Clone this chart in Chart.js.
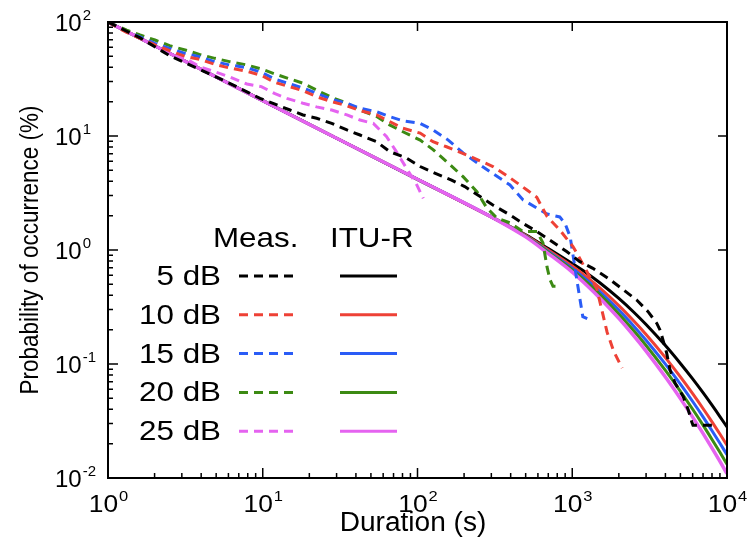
<!DOCTYPE html>
<html>
<head>
<meta charset="utf-8">
<script src="https://cdn.jsdelivr.net/npm/chart.js@4.4.0/dist/chart.umd.min.js"></script>
<style>
  html, body { margin: 0; padding: 0; background: #fff; }
</style>
</head>
<body>
<canvas id="chart" width="748" height="551"></canvas>
<script>
// ---- data ----
const levels = ['5 dB', '10 dB', '15 dB', '20 dB', '25 dB'];
const colors = ['#000000', '#ee4136', '#2a5cf6', '#3c8a13', '#e563f0'];

// ITU-R model curves
const ituDuration = [1, 10, 100, 300, 500, 700, 1000, 1250, 1500, 2000, 2500, 3000, 4000, 5000, 6000, 7000, 8000, 9000, 10000];
const itu5dB  = [100, 20.4, 4.17, 1.95, 1.36, 1.03, 0.76, 0.623, 0.519, 0.376, 0.2845, 0.222, 0.145, 0.101, 0.074, 0.056, 0.0435, 0.0346, 0.028];
const itu10dB = [100, 20.4, 4.17, 1.95, 1.347, 1.002, 0.723, 0.574, 0.467, 0.325, 0.238, 0.1815, 0.1138, 0.077, 0.0549, 0.0407, 0.0311, 0.0243, 0.0194];
const itu15dB = [100, 20.4, 4.17, 1.95, 1.329, 0.972, 0.690, 0.541, 0.4346, 0.2972, 0.2148, 0.1617, 0.0996, 0.0665, 0.0469, 0.0344, 0.026, 0.0202, 0.016];
const itu20dB = [100, 20.4, 4.17, 1.95, 1.319, 0.957, 0.670, 0.517, 0.410, 0.2748, 0.1955, 0.1454, 0.0878, 0.0576, 0.0401, 0.0291, 0.0218, 0.0168, 0.0132];
const itu25dB = [100, 20.4, 4.17, 1.95, 1.304, 0.931, 0.640, 0.4866, 0.3817, 0.2513, 0.1763, 0.1296, 0.0768, 0.0497, 0.0342, 0.0246, 0.0183, 0.014, 0.0109];

// measured curves (duration s, probability %)
const meas5dBDur  = [1, 1.32, 1.6, 2.5, 3.9, 6.1, 9.6, 12, 15, 18.2, 22.3, 27.9, 35, 42.5, 54.5, 66, 85, 104, 126, 166, 202, 254, 307, 396, 481, 592, 718, 920, 1120, 1360, 1750, 2130, 2610, 3090, 3514, 3690, 3857, 4074, 4285, 4617, 5220, 5620, 5915, 6030, 8360];
const meas5dBProb = [100, 83, 73, 50.6, 38.5, 29, 21.4, 19, 16.9, 15.3, 14.3, 12.9, 11.3, 10.2, 8.9, 7.3, 6.4, 5.4, 4.8, 4.1, 3.6, 2.94, 2.48, 2.03, 1.71, 1.45, 1.22, 0.97, 0.79, 0.69, 0.55, 0.45, 0.364, 0.288, 0.228, 0.199, 0.163, 0.125, 0.0885, 0.068, 0.0516, 0.0395, 0.0312, 0.029, 0.029];

const meas10dBDur  = [1, 1.32, 1.61, 2.01, 2.5, 3.15, 3.9, 4.9, 6.1, 7.9, 9.8, 12, 18.2, 22.3, 27.9, 35, 42.5, 54.5, 66, 80.5, 104, 126, 154, 209, 307, 396, 510, 590, 687, 830, 1011, 1070, 1300, 1440, 1590, 1680, 1850, 2100];
const meas10dBProb = [100, 81, 72, 63, 56, 50, 47, 42.5, 39.5, 37, 34, 29.5, 25, 22.1, 20, 18.4, 16.7, 15.3, 13.4, 11.7, 10.6, 8.9, 8.05, 6.8, 5.4, 4.3, 3.36, 2.9, 1.97, 1.5, 1.07, 0.94, 0.58, 0.46, 0.26, 0.19, 0.13, 0.092];

const meas15dBDur  = [1, 1.32, 1.61, 2.01, 2.5, 3.15, 3.9, 4.9, 6.1, 7.9, 9.8, 12, 18.2, 22.3, 27.9, 35, 42.5, 54.5, 66, 80.5, 104, 126, 158, 197, 294, 396, 481, 592, 687, 830, 900, 970, 1070, 1170, 1250];
const meas15dBProb = [100, 82, 74, 65, 58.7, 53, 49.6, 44.9, 42, 39.8, 36.2, 31.5, 26.3, 23.7, 21, 19.4, 17.5, 16.3, 14.8, 13.6, 12.9, 11.3, 9.2, 7.1, 4.86, 3.72, 2.75, 2.33, 2.07, 1.95, 1.7, 1.3, 0.55, 0.26, 0.25];

const meas20dBDur  = [1, 1.32, 1.61, 2.01, 2.5, 3.15, 3.9, 4.9, 6.1, 7.9, 9.8, 12, 18.2, 22.3, 27.9, 35, 42.5, 54.5, 66, 80.5, 104, 126, 162, 197, 242, 281, 326, 396, 481, 592, 647, 687, 718, 751, 809];
const meas20dBProb = [100, 85, 77, 69.5, 62, 56.8, 52, 48, 44.9, 42, 38.7, 35, 29, 25.3, 21.8, 19.4, 16.9, 14.8, 12.5, 10.9, 9.2, 7.6, 5.6, 4.4, 3.25, 2.33, 1.91, 1.73, 1.45, 1.45, 1.15, 0.71, 0.55, 0.48, 0.48];

const meas25dBDur  = [1, 1.32, 1.61, 2.01, 2.5, 3.15, 3.9, 4.9, 6.1, 7.9, 9.8, 12, 14.3, 18.2, 22.3, 27.9, 35, 42.5, 51.8, 63, 73, 85, 99, 109];
const meas25dBProb = [100, 84, 74, 62.8, 54, 48, 40.6, 36.6, 33, 28.6, 27.1, 23.5, 21.4, 19.4, 18, 16.9, 15.3, 13.8, 12.9, 9.9, 7.3, 5.2, 3.72, 2.84];

// axis ranges (powers of ten)
const xDecades = [0, 1, 2, 3, 4];
const yDecades = [-2, -1, 0, 1, 2];

const xTitle = 'Duration (s)';
const yTitle = 'Probability of occurrence (%)';

// ---- build datasets ----
function zip(xs, ys) {
  return xs.map((x, i) => ({ x: x, y: ys[i] }));
}

const measSeries = [
  [meas5dBDur, meas5dBProb], [meas10dBDur, meas10dBProb], [meas15dBDur, meas15dBProb],
  [meas20dBDur, meas20dBProb], [meas25dBDur, meas25dBProb]
];
const ituSeries = [itu5dB, itu10dB, itu15dB, itu20dB, itu25dB];

const datasets = [];
// measured (dashed) first in list -> drawn on top
measSeries.forEach((s, i) => {
  datasets.push({
    label: 'Meas. ' + levels[i],
    data: zip(s[0], s[1]),
    borderColor: colors[i],
    borderWidth: 3,
    borderDash: [9, 6],
    pointRadius: 0,
    tension: 0,
    fill: false
  });
});
// ITU-R solid, magenta above the others
for (let i = ituSeries.length - 1; i >= 0; i--) {
  datasets.push({
    label: 'ITU-R ' + levels[i],
    data: zip(ituDuration, ituSeries[i]),
    borderColor: colors[i],
    borderWidth: i === 4 ? 3.5 : 3,
    pointRadius: 0,
    cubicInterpolationMode: 'monotone',
    fill: false
  });
}

// ---- frame, ticks, labels, legend ----
const FONT = '"Liberation Sans", Arial, sans-serif';

// text stretched horizontally around its anchor
function txt(ctx, s, x, y, size, align, sx) {
  ctx.save();
  ctx.translate(x, y);
  ctx.scale(sx, 1);
  ctx.font = size + 'px ' + FONT;
  ctx.textAlign = align;
  ctx.textBaseline = 'alphabetic';
  ctx.fillText(s, 0, 0);
  ctx.restore();
}

function powWidths(ctx, e, sx) {
  ctx.font = '24px ' + FONT;
  const w1 = ctx.measureText('10').width * sx;
  ctx.font = '15px ' + FONT;
  const w2 = ctx.measureText(String(e)).width * sx;
  return [w1, w2];
}

function drawPow(ctx, e, left, base, sx) {
  const [w1] = powWidths(ctx, e, sx);
  txt(ctx, '10', left, base, 24, 'left', sx);
  txt(ctx, String(e), left + w1 + 1, base - 11, 15, 'left', sx);
}

const decor = {
  id: 'decor',
  afterDraw(chart) {
    const ctx = chart.ctx;
    const xs = chart.scales.x, ys = chart.scales.y;
    const a = chart.chartArea;
    ctx.save();
    ctx.fillStyle = '#000';
    ctx.strokeStyle = '#000';

    // minor / major ticks, pointing inwards
    ctx.lineWidth = 1.5;
    ctx.beginPath();
    xDecades.forEach(d => {
      const px = xs.getPixelForValue(Math.pow(10, d));
      ctx.moveTo(px, a.bottom); ctx.lineTo(px, a.bottom - 10);
      ctx.moveTo(px, a.top); ctx.lineTo(px, a.top + 9);
      if (d < 4) {
        for (let m = 2; m <= 9; m++) {
          const pm = xs.getPixelForValue(m * Math.pow(10, d));
          ctx.moveTo(pm, a.bottom); ctx.lineTo(pm, a.bottom - 5);
        }
      }
    });
    yDecades.forEach(d => {
      const py = ys.getPixelForValue(Math.pow(10, d));
      ctx.moveTo(a.left, py); ctx.lineTo(a.left + 10, py);
      ctx.moveTo(a.right, py); ctx.lineTo(a.right - 9, py);
      if (d < 2) {
        for (let m = 2; m <= 9; m++) {
          const pm = ys.getPixelForValue(m * Math.pow(10, d));
          ctx.moveTo(a.left, pm); ctx.lineTo(a.left + 5, pm);
        }
      }
    });
    ctx.stroke();

    // frame
    ctx.lineWidth = 2;
    ctx.strokeRect(a.left, a.top, a.right - a.left, a.bottom - a.top);

    // tick labels
    xDecades.forEach(d => {
      const px = xs.getPixelForValue(Math.pow(10, d));
      const [w1, w2] = powWidths(ctx, d, 1.1);
      drawPow(ctx, d, px - (w1 + w2) / 2, a.bottom + 34, 1.1);
    });
    yDecades.forEach(d => {
      const py = ys.getPixelForValue(Math.pow(10, d));
      drawPow(ctx, d, 55, py + 9, 1.0);
    });

    // axis titles
    txt(ctx, xTitle, 413, 531, 27, 'center', 1.04);
    ctx.save();
    ctx.translate(38, (a.top + a.bottom) / 2);
    ctx.scale(1.12, 1);
    ctx.rotate(-Math.PI / 2);
    ctx.font = '22.5px ' + FONT;
    ctx.textAlign = 'center';
    ctx.fillText(yTitle, 0, 0);
    ctx.restore();

    // legend table
    txt(ctx, 'Meas.', 213, 247, 28, 'left', 1.12);
    txt(ctx, 'ITU-R', 330, 247, 28, 'left', 1.12);
    levels.forEach((lab, i) => {
      const base = 285 + i * 38.8;
      ctx.fillStyle = '#000';
      txt(ctx, lab, 221, base, 28, 'right', 1.12);
      const ly = base - 9;
      ctx.strokeStyle = colors[i];
      ctx.lineWidth = 3;
      ctx.setLineDash([9, 6]);
      ctx.beginPath(); ctx.moveTo(239, ly); ctx.lineTo(293, ly); ctx.stroke();
      ctx.setLineDash([]);
      ctx.beginPath(); ctx.moveTo(340, ly); ctx.lineTo(397, ly); ctx.stroke();
    });
    ctx.restore();
  }
};

new Chart(document.getElementById('chart'), {
  type: 'line',
  data: { datasets: datasets },
  options: {
    responsive: false,
    animation: false,
    layout: { padding: { left: 108, right: 21, top: 22, bottom: 73 } },
    plugins: { legend: { display: false }, tooltip: { enabled: false } },
    scales: {
      x: { type: 'logarithmic', min: 1, max: 10000, display: false },
      y: { type: 'logarithmic', min: 0.01, max: 100, display: false }
    }
  },
  plugins: [decor]
});
</script>
</body>
</html>
